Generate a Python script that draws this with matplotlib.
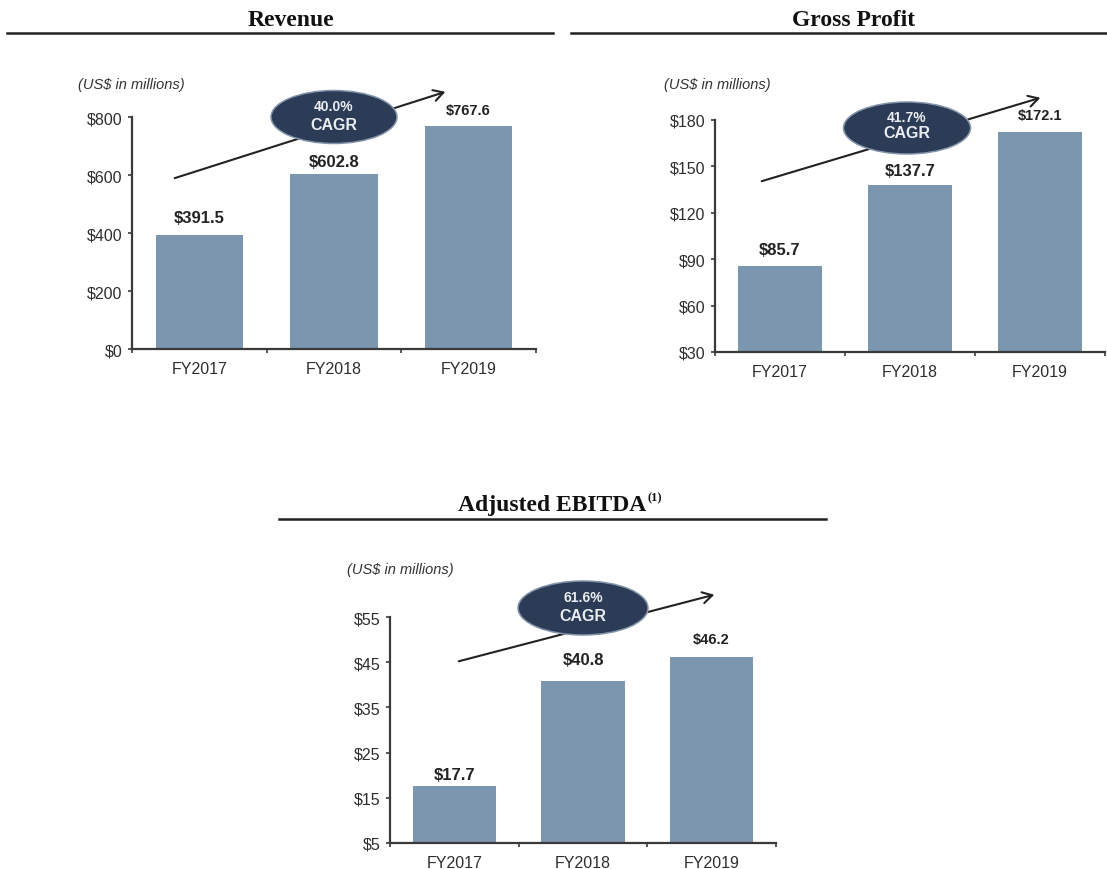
import matplotlib
matplotlib.use("Agg")
import matplotlib.pyplot as plt
from matplotlib.patches import Ellipse, FancyArrowPatch
from matplotlib.lines import Line2D

# ---------------- data ----------------
categories = ["FY2017", "FY2018", "FY2019"]
revenue = [391.5, 602.8, 767.6]
gross_profit = [85.7, 137.7, 172.1]
adj_ebitda = [17.7, 40.8, 46.2]
revenue_ticks = [0, 200, 400, 600, 800]
gp_ticks = [30, 60, 90, 120, 150, 180]
ebitda_ticks = [5, 15, 25, 35, 45, 55]
cagr_labels = ["40.0%", "41.7%", "61.6%"]
titles = ["Revenue", "Gross Profit", "Adjusted EBITDA"]
unit_label = "(US$ in millions)"

# ---------------- style ----------------
W, H = 1107, 870
BAR = "#7b96ae"
NAVY = "#2c3b56"
AXC = "#3a3a3a"
SANS = ["Liberation Sans", "DejaVu Sans"]
SERIF = ["Liberation Serif", "DejaVu Serif"]
plt.rcParams["font.family"] = SANS

fig = plt.figure(figsize=(W / 100, H / 100), dpi=100)
fig.patch.set_facecolor("white")


def fp(x, y):
    """pixel (from top-left) -> figure fraction"""
    return x / W, 1 - y / H


def make_axes(L, T, R, B):
    return fig.add_axes([L / W, 1 - B / H, (R - L) / W, (B - T) / H])


def draw_panel(ax, values, ticks, label_offsets, label_sizes):
    x = list(range(len(categories)))
    ax.bar(x, values, width=0.65, color=BAR, zorder=2)
    ax.set_xlim(-0.5, len(categories) - 0.5)
    ax.set_ylim(ticks[0], ticks[-1])
    ax.set_yticks(ticks)
    ax.set_yticklabels([f"${t}" for t in ticks])
    ax.set_xticks(x)
    ax.set_xticklabels(categories)
    ax.set_xticks([i - 0.5 for i in range(len(categories) + 1)], minor=True)
    for s in ["top", "right"]:
        ax.spines[s].set_visible(False)
    for s in ["left", "bottom"]:
        ax.spines[s].set_color(AXC)
        ax.spines[s].set_linewidth(1.6)
    ax.tick_params(axis="y", direction="out", length=3, width=1.2,
                   colors=AXC, labelsize=11.5, pad=4, labelcolor="#2e2e2e")
    ax.tick_params(axis="x", which="major", length=0, labelsize=11.5,
                   pad=9, labelcolor="#2e2e2e")
    ax.tick_params(axis="x", which="minor", direction="out", length=3,
                   width=1.2, colors=AXC)
    for xi, v, off, fs in zip(x, values, label_offsets, label_sizes):
        ax.annotate(f"${v:.1f}", (xi, v), xytext=(0, off * 0.72),
                    textcoords="offset points", ha="center", va="center",
                    fontsize=fs, fontweight="bold", color="#222222")


def header(title, cx, cy, x0, x1, ly):
    fig.text(*fp(cx, cy), title, ha="center", va="center", fontsize=17,
             fontweight="bold", family=SERIF, color="#111111")
    fig.add_artist(Line2D([x0 / W, x1 / W], [1 - ly / H, 1 - ly / H],
                          color="#222222", lw=1.8))


def cagr(label, start, end, ecx, ecy, ew, eh, y1, y2):
    fig.add_artist(FancyArrowPatch(
        fp(*start), fp(*end), transform=fig.transFigure,
        arrowstyle="->,head_length=7,head_width=4", color="#222222",
        lw=1.5, zorder=3))
    e = Ellipse(fp(ecx, ecy), ew / W, eh / H, transform=fig.transFigure,
                facecolor=NAVY, edgecolor="#8494aa", lw=1.1, zorder=4)
    fig.add_artist(e)
    fig.text(*fp(ecx, y1), label, ha="center", va="center", fontsize=10,
             fontweight="bold", color="#e9edf2", zorder=5)
    fig.text(*fp(ecx, y2), "CAGR", ha="center", va="center", fontsize=11.5,
             fontweight="bold", color="#e9edf2", zorder=5)


# ---------------- Revenue ----------------
header(titles[0], 291, 20, 7, 553, 34)
ax1 = make_axes(132, 118, 536, 350)
draw_panel(ax1, revenue, revenue_ticks, [18, 13, 16], [12, 12, 10.5])
fig.text(*fp(78, 85), unit_label, ha="left", va="center", fontsize=10.5,
         style="italic", color="#333333")
cagr(cagr_labels[0], (172, 180), (448, 92), 334, 118, 126, 53, 107, 126)

# ---------------- Gross Profit ----------------
header(titles[1], 854, 20, 571, 1107, 34)
ax2 = make_axes(715, 121, 1105, 353)
draw_panel(ax2, gross_profit, gp_ticks, [16, 15, 17], [12, 12, 10.5])
fig.text(*fp(664, 85), unit_label, ha="left", va="center", fontsize=10.5,
         style="italic", color="#333333")
cagr(cagr_labels[1], (759, 183), (1043, 98), 907, 129, 127, 52, 118, 133)

# ---------------- Adjusted EBITDA ----------------
fig.text(*fp(646, 505), titles[2], ha="right", va="center", fontsize=17,
         fontweight="bold", family=SERIF, color="#111111")
fig.text(*fp(647, 498), "(1)", ha="left", va="center", fontsize=9,
         fontweight="bold", family=SERIF, color="#111111")
fig.add_artist(Line2D([279 / W, 826 / W], [1 - 520 / H, 1 - 520 / H],
                      color="#222222", lw=1.8))
ax3 = make_axes(390, 618, 776, 844)
draw_panel(ax3, adj_ebitda, ebitda_ticks, [11, 22, 18], [12, 12, 10.5])
fig.text(*fp(347, 570), unit_label, ha="left", va="center", fontsize=10.5,
         style="italic", color="#333333")
cagr(cagr_labels[2], (456, 663), (717, 595), 583, 609, 130, 54, 598, 617)

fig.savefig("out.png", dpi=100, facecolor="white")
